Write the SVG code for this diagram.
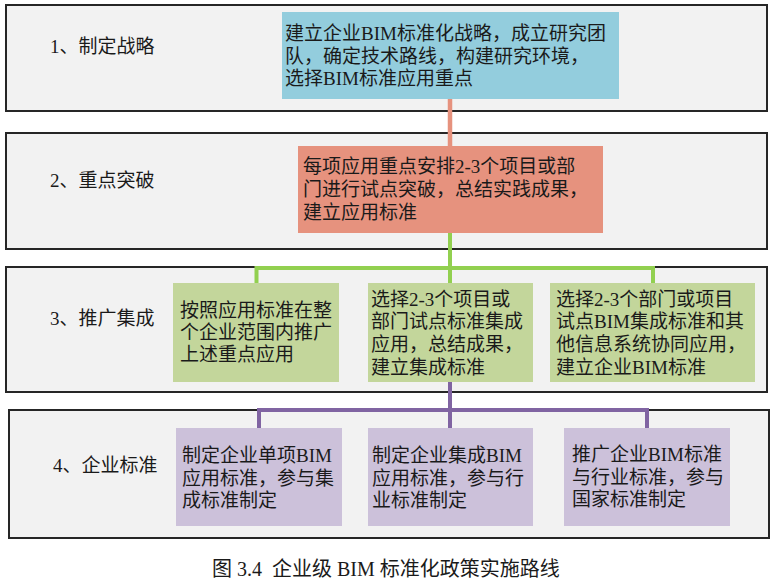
<svg xmlns="http://www.w3.org/2000/svg" width="780" height="588" viewBox="0 0 780 588">
<style>
.band{fill:#f2f2f2;stroke:#262626;stroke-width:2}
.t{font-family:"Liberation Serif","Noto Sans CJK SC",serif;font-size:19px;fill:#1a1a1a}
.lbl{font-family:"Liberation Serif","Noto Sans CJK SC",serif;font-size:19px;fill:#1a1a1a}
.cap{font-family:"Liberation Serif","Noto Sans CJK SC",serif;font-size:20px;fill:#1a1a1a}
.blue{fill:#93cddd}
.pink{fill:#e6927e}
.green{fill:#c3d69b}
.purple{fill:#ccc1da}
.cp{stroke:#e6927e;stroke-width:4.5;fill:none}
.cg{stroke:#92d050;stroke-width:4;fill:none}
.cv{stroke:#8064a2;stroke-width:4;fill:none}
</style>
<rect width="780" height="588" fill="#ffffff"/>
<g id="band1"><rect class="band" x="6" y="5" width="761" height="106"/><text class="lbl" x="50" y="52.5">1、制定战略</text></g>
<g id="band2"><rect class="band" x="6" y="133" width="761" height="116"/><text class="lbl" x="50" y="186.5">2、重点突破</text></g>
<g id="band3"><rect class="band" x="6" y="267" width="761" height="125"/><text class="lbl" x="50" y="324.5">3、推广集成</text></g>
<g id="band4"><rect class="band" x="9" y="410" width="760" height="128"/><text class="lbl" x="53" y="471.5">4、企业标准</text></g>
<g id="connectors">
<path class="cp" d="M450 99 V146"/>
<path class="cg" d="M450 233 V283 M256.5 283 V268 H653 V283"/>
<path class="cv" d="M450 382 V428 M259 428 V410 H647 V428"/>
</g>
<g id="n1"><rect class="blue" x="282" y="12" width="337" height="87"/>
<text class="t" x="285" y="40">建立企业BIM标准化战略，成立研究团</text>
<text class="t" x="285" y="62.5">队，确定技术路线，构建研究环境，</text>
<text class="t" x="285" y="85">选择BIM标准应用重点</text></g>
<g id="n2"><rect class="pink" x="298" y="146" width="305" height="87"/>
<text class="t" x="303" y="172.5">每项应用重点安排2-3个项目或部</text>
<text class="t" x="303" y="196">门进行试点突破，总结实践成果，</text>
<text class="t" x="303" y="219">建立应用标准</text></g>
<g id="n3a"><rect class="green" x="173" y="283" width="166" height="99"/>
<text class="t" x="180" y="316.5">按照应用标准在整</text>
<text class="t" x="180" y="338.5">个企业范围内推广</text>
<text class="t" x="180" y="360.5">上述重点应用</text></g>
<g id="n3b"><rect class="green" x="368" y="283" width="165" height="99"/>
<text class="t" x="371" y="305.5">选择2-3个项目或</text>
<text class="t" x="371" y="328">部门试点标准集成</text>
<text class="t" x="371" y="351">应用，总结成果，</text>
<text class="t" x="371" y="373.5">建立集成标准</text></g>
<g id="n3c"><rect class="green" x="550" y="283" width="205" height="99"/>
<text class="t" x="556" y="305.5">选择2-3个部门或项目</text>
<text class="t" x="556" y="328">试点BIM集成标准和其</text>
<text class="t" x="556" y="351">他信息系统协同应用，</text>
<text class="t" x="556" y="373.5">建立企业BIM标准</text></g>
<g id="n4a"><rect class="purple" x="176" y="428" width="166" height="98"/>
<text class="t" x="182" y="462">制定企业单项BIM</text>
<text class="t" x="182" y="484.5">应用标准，参与集</text>
<text class="t" x="182" y="507">成标准制定</text></g>
<g id="n4b"><rect class="purple" x="368" y="428" width="165" height="98"/>
<text class="t" x="372" y="462">制定企业集成BIM</text>
<text class="t" x="372" y="484.5">应用标准，参与行</text>
<text class="t" x="372" y="507">业标准制定</text></g>
<g id="n4c"><rect class="purple" x="564" y="428" width="166" height="98"/>
<text class="t" x="572" y="461">推广企业BIM标准</text>
<text class="t" x="572" y="483.5">与行业标准，参与</text>
<text class="t" x="572" y="506">国家标准制定</text></g>
<g id="caption"><text class="cap" x="212" y="576" xml:space="preserve">图 3.4  企业级 BIM 标准化政策实施路线</text></g>
</svg>
